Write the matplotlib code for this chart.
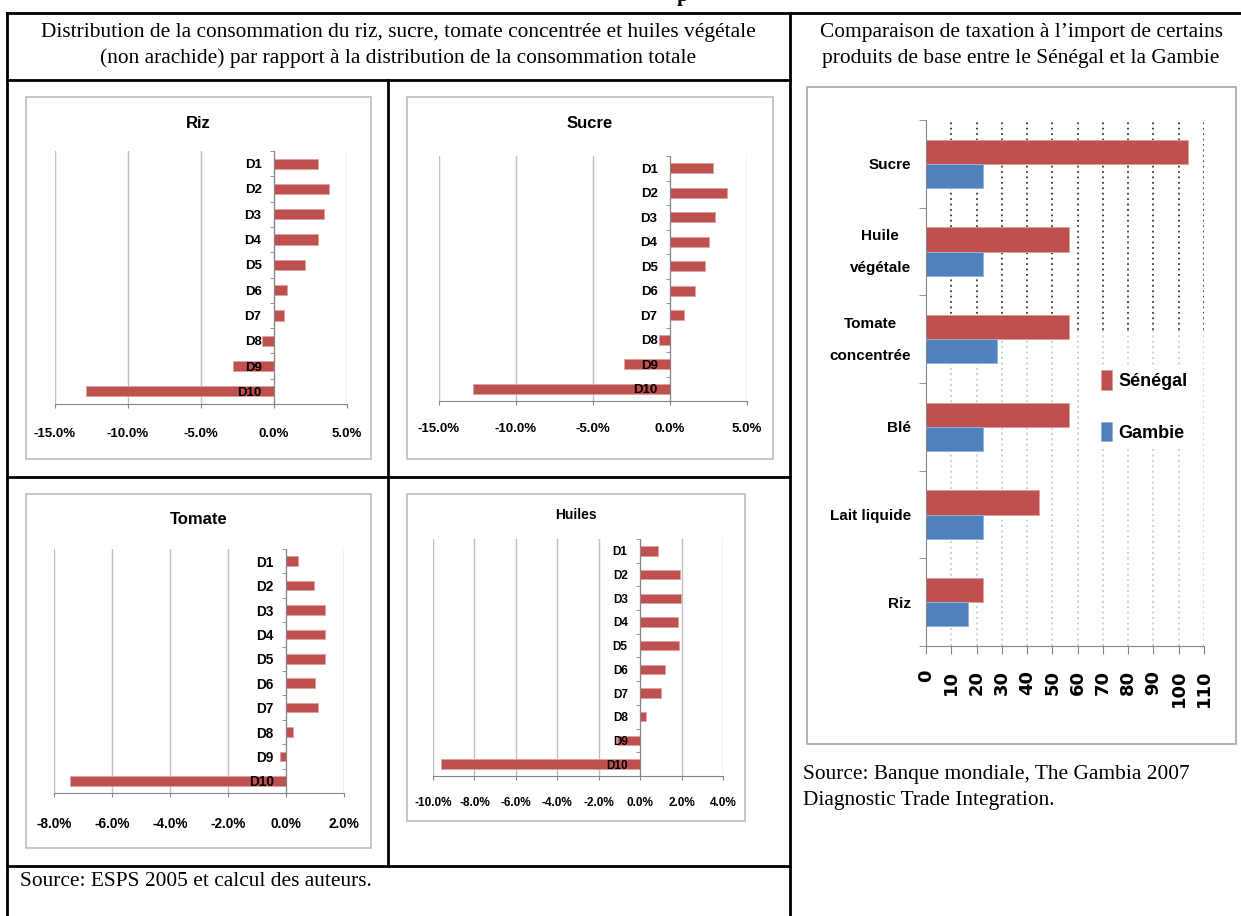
import numpy as np
import matplotlib
matplotlib.use('Agg')
import matplotlib.pyplot as plt
from matplotlib import font_manager
from matplotlib.lines import Line2D
from matplotlib.patches import Rectangle
from matplotlib.ticker import FuncFormatter
from matplotlib.transforms import ScaledTranslation

# --- data ---
deciles = ['D1', 'D2', 'D3', 'D4', 'D5', 'D6', 'D7', 'D8', 'D9', 'D10']
riz = [3.0, 3.8, 3.4, 3.0, 2.1, 0.9, 0.7, -0.8, -2.8, -12.9]
sucre = [2.8, 3.7, 2.9, 2.5, 2.3, 1.6, 0.9, -0.7, -3.0, -12.8]
tomate = [0.4, 0.95, 1.35, 1.35, 1.33, 1.0, 1.1, 0.23, -0.22, -7.45]
huiles = [0.85, 1.9, 1.95, 1.82, 1.86, 1.22, 1.0, 0.27, -1.12, -9.6]

produits = ['Sucre', 'Huile\nvégétale', 'Tomate\nconcentrée', 'Blé', 'Lait liquide', 'Riz']
senegal = [103.7, 56.5, 56.5, 56.5, 44.7, 22.4]
gambie = [22.4, 22.4, 28.2, 22.4, 22.4, 16.5]

RED = '#C0504D'
BLUE = '#4F81BD'
GRID = '#BFBFBF'
AXC = '#868686'

installed = {f.name for f in font_manager.fontManager.ttflist}
SANS = 'Liberation Sans Narrow' if 'Liberation Sans Narrow' in installed else 'Liberation Sans'
SERIF = 'Liberation Serif'
plt.rcParams['font.family'] = SANS
plt.rcParams['font.weight'] = 'bold'

W, H = 1241, 916
fig = plt.figure(figsize=(W / 100, H / 100), dpi=100)


def box(x0, y0, x1, y1):
    return [x0 / W, 1 - y1 / H, (x1 - x0) / W, (y1 - y0) / H]


def line(xs, ys):
    fig.add_artist(Line2D([x / W for x in xs], [1 - y / H for y in ys],
                          transform=fig.transFigure, color='black', lw=2))


def frame(x0, y0, x1, y1, ec):
    fig.add_artist(Rectangle((x0 / W, 1 - y1 / H), (x1 - x0) / W, (y1 - y0) / H,
                             transform=fig.transFigure, fill=False, ec=ec, lw=1.2))


def serif_text(x, y, s, ha='center', size=15.4, weight='normal'):
    fig.text(x / W, 1 - y / H, s, ha=ha, va='center', family=SERIF,
             fontsize=size, fontweight=weight)


# table rules
line([7, 1241], [13, 13])
line([7, 7], [13, 916])
line([790, 790], [13, 916])
line([7, 790], [80, 80])
line([7, 790], [477, 477])
line([388, 388], [80, 866])
line([7, 790], [866, 866])

# bottom of a bold heading that lies above the crop
fig.text(677 / W, 1 - 0.5 / H, 'p', ha='left', va='baseline', family=SERIF,
         fontsize=15, fontweight='bold')

serif_text(398, 33, 'Distribution de la consommation du riz, sucre, tomate concentrée et huiles végétale')
serif_text(398, 58, '(non arachide) par rapport à la distribution de la consommation totale')
serif_text(1021, 33, 'Comparaison de taxation à l\u2019import de certains')
serif_text(1021, 58, 'produits de base entre le Sénégal et la Gambie')
serif_text(20, 882, 'Source: ESPS 2005 et calcul des auteurs.', ha='left')
serif_text(803, 775, 'Source: Banque mondiale, The Gambia 2007', ha='left')
serif_text(803, 800, 'Diagnostic Trade Integration.', ha='left')


def small_chart(fr, area, title, values, xlim, step, title_y, fs_title, fs_tick, xpad):
    frame(*fr, ec=GRID)
    fig.text((fr[0] + fr[2]) / 2 / W, 1 - title_y / H, title, ha='center', va='center',
             fontsize=fs_title, fontweight='bold')
    ax = fig.add_axes(box(*area))
    pos = np.arange(len(deciles))
    ax.barh(pos, values, height=0.4, color=RED, ec='#DDA09E', lw=0.6, zorder=1)
    ax.set_xlim(xlim)
    ax.set_ylim(len(deciles) - 0.5, -0.5)
    ticks = np.arange(xlim[0], xlim[1] + step / 2, step)
    ax.set_xticks(ticks)
    ax.xaxis.set_major_formatter(FuncFormatter(lambda v, p: f'{v:.1f}%'))
    for v in ticks:
        ax.axvline(v, color=GRID, lw=1, zorder=0.5)
    ax.set_yticks(pos, deciles)
    ax.set_yticks(np.arange(-0.5, len(deciles)), minor=True)
    ax.tick_params(axis='y', which='major', length=0, pad=9, labelsize=fs_tick)
    ax.tick_params(axis='y', which='minor', length=3, color=AXC, direction='out')
    ax.tick_params(axis='x', length=3, color=AXC, pad=xpad, labelsize=fs_tick)
    for s in ('top', 'right'):
        ax.spines[s].set_visible(False)
    ax.spines['left'].set_position(('data', 0))
    ax.spines['left'].set_color(AXC)
    ax.spines['bottom'].set_color(AXC)
    return ax


small_chart((26, 97, 371, 459), (55, 151, 347, 404), 'Riz', riz, (-15, 5), 5, 123, 12, 9.5, 14)
small_chart((407, 97, 773, 459), (439, 156, 747, 401), 'Sucre', sucre, (-15, 5), 5, 124, 12, 9.5, 13)
small_chart((26, 494, 371, 848), (54, 549, 344, 793), 'Tomate', tomate, (-8, 2), 2, 520, 12, 9.8, 14)
small_chart((407, 494, 745, 821), (433, 539, 723, 776), 'Huiles', huiles, (-10, 4), 2, 515, 10, 8.5, 12)

# right-hand chart: import taxation
frame(807, 87, 1236, 744, ec='#A6A6A6')
ax = fig.add_axes(box(926, 120, 1204, 646))
pos = np.arange(len(produits))
ax.barh(pos - 0.1375, senegal, height=0.275, color=RED, ec='#DDA09E', lw=0.7, label='Sénégal', zorder=2)
ax.barh(pos + 0.1375, gambie, height=0.275, color=BLUE, ec='#95B3D7', lw=0.7, label='Gambie', zorder=2)
ax.set_xlim(0, 110)
ax.set_ylim(len(produits) - 0.5, -0.5)
xt = np.arange(0, 111, 10)
ax.set_xticks(xt)
split = 0.6
for v in xt[1:]:
    ax.axvline(v, ymin=split, ymax=1, color='#3A3A3A', ls=(0, (1, 2)), lw=1.3, zorder=0.5)
    ax.axvline(v, ymin=0, ymax=split, color='#B9CDE5', ls=(0, (1, 2)), lw=1.3, zorder=0.5)
ax.set_yticks(pos, produits)
ax.set_yticks(np.arange(-0.5, len(produits)), minor=True)
ax.tick_params(axis='y', which='major', length=0, pad=11, labelsize=11)
ax.tick_params(axis='y', which='minor', length=5, color=AXC, direction='out')
ax.tick_params(axis='x', length=6, color=AXC, pad=11)
lift = ScaledTranslation(0, 7 / 72, fig.dpi_scale_trans)
for t in ax.get_yticklabels():
    if '\n' in t.get_text():
        t.set_multialignment('center')
        t.set_linespacing(2.6)
        t.set_transform(t.get_transform() + lift)
for t in ax.get_xticklabels():
    t.set_rotation(90)
    t.set_family('DejaVu Sans')
    t.set_fontsize(13)
    t.set_fontweight('bold')
for s in ('top', 'right'):
    ax.spines[s].set_visible(False)
ax.spines['left'].set_color(AXC)
ax.spines['bottom'].set_color(AXC)
ax.legend(loc='center left', bbox_to_anchor=(1087 / W, 1 - 406 / H), bbox_transform=fig.transFigure,
          fontsize=13, handlelength=0.6, handleheight=1.3, handletextpad=0.35, labelspacing=1.75,
          borderpad=0.3, frameon=True, facecolor='white', edgecolor='none', framealpha=1, fancybox=False)

fig.savefig('out.png', dpi=100)
